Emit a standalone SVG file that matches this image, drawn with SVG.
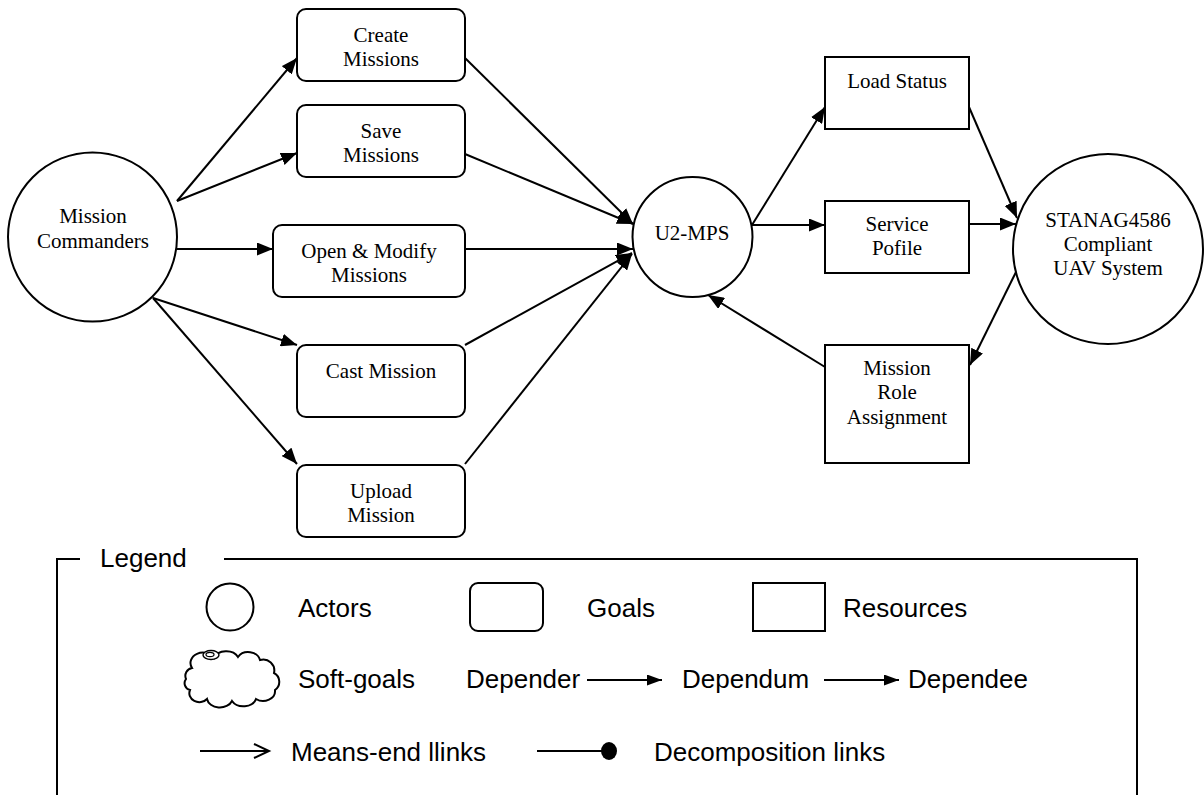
<svg xmlns="http://www.w3.org/2000/svg" width="1204" height="795" viewBox="0 0 1204 795">
  <style>
    .shape { fill: #ffffff; stroke: #000000; stroke-width: 2; }
    .label { font-family: "Liberation Serif", "Times New Roman", serif; font-size: 21px; fill: #000000; text-anchor: middle; }
    .edge { stroke: #000000; stroke-width: 2; fill: none; marker-end: url(#arrow); }
    .legend-text { font-family: "Liberation Sans", Arial, sans-serif; font-size: 26px; fill: #000000; }
    .legend-line { stroke: #000000; stroke-width: 2; fill: none; }
  </style>
  <defs>
    <marker id="arrow" markerUnits="userSpaceOnUse" markerWidth="17" markerHeight="13" refX="16" refY="6.5" orient="auto">
      <path d="M0,0 L16,6.5 L0,13 Z" fill="#000000"/>
    </marker>
    <marker id="arrow-small" markerUnits="userSpaceOnUse" markerWidth="16" markerHeight="11" refX="15" refY="5.5" orient="auto">
      <path d="M0,0 L15,5.5 L0,11 Z" fill="#000000"/>
    </marker>
  </defs>

  <rect x="0" y="0" width="1204" height="795" fill="#ffffff"/>

  <!-- dependency links -->
  <g id="connectors">
    <line class="edge" x1="177" y1="201" x2="297" y2="58"/>
    <line class="edge" x1="177" y1="201" x2="297" y2="153"/>
    <line class="edge" x1="177" y1="249" x2="273" y2="249"/>
    <line class="edge" x1="153" y1="298" x2="297" y2="345"/>
    <line class="edge" x1="153" y1="298" x2="297" y2="464"/>
    <line class="edge" x1="465" y1="58" x2="633" y2="224"/>
    <line class="edge" x1="465" y1="154" x2="633" y2="224"/>
    <line class="edge" x1="465" y1="249" x2="633" y2="249"/>
    <line class="edge" x1="465" y1="345" x2="632" y2="253"/>
    <line class="edge" x1="465" y1="464" x2="632" y2="254"/>
    <line class="edge" x1="752" y1="225" x2="825" y2="107"/>
    <line class="edge" x1="752" y1="225" x2="825" y2="225"/>
    <line class="edge" x1="825" y1="367" x2="708" y2="295"/>
    <line class="edge" x1="969" y1="107" x2="1017" y2="218"/>
    <line class="edge" x1="969" y1="224" x2="1016" y2="224"/>
    <line class="edge" x1="1016" y1="272" x2="970" y2="365"/>
  </g>

  <!-- actors -->
  <g id="mission-commanders">
    <circle class="shape" cx="92.5" cy="237" r="84.5"/>
    <text class="label" x="93" y="223">Mission</text>
    <text class="label" x="93" y="248">Commanders</text>
  </g>
  <g id="u2-mps">
    <circle class="shape" cx="692.5" cy="237" r="60"/>
    <text class="label" x="692" y="240">U2-MPS</text>
  </g>
  <g id="stanag4586-uav">
    <circle class="shape" cx="1108" cy="249" r="95"/>
    <text class="label" x="1108" y="227">STANAG4586</text>
    <text class="label" x="1108" y="251">Compliant</text>
    <text class="label" x="1108" y="275">UAV System</text>
  </g>

  <!-- goals -->
  <g id="create-missions">
    <rect class="shape" x="297" y="9" width="168" height="72" rx="9"/>
    <text class="label" x="381" y="42">Create</text>
    <text class="label" x="381" y="66">Missions</text>
  </g>
  <g id="save-missions">
    <rect class="shape" x="297" y="105" width="168" height="72" rx="9"/>
    <text class="label" x="381" y="138">Save</text>
    <text class="label" x="381" y="162">Missions</text>
  </g>
  <g id="open-modify-missions">
    <rect class="shape" x="273" y="225" width="192" height="72" rx="9"/>
    <text class="label" x="369" y="258">Open &amp; Modify</text>
    <text class="label" x="369" y="282">Missions</text>
  </g>
  <g id="cast-mission">
    <rect class="shape" x="297" y="345" width="168" height="72" rx="9"/>
    <text class="label" x="381" y="378">Cast Mission</text>
  </g>
  <g id="upload-mission">
    <rect class="shape" x="297" y="465" width="168" height="72" rx="9"/>
    <text class="label" x="381" y="498">Upload</text>
    <text class="label" x="381" y="522">Mission</text>
  </g>

  <!-- resources -->
  <g id="load-status">
    <rect class="shape" x="825" y="57" width="144" height="72"/>
    <text class="label" x="897" y="88">Load Status</text>
  </g>
  <g id="service-profile">
    <rect class="shape" x="825" y="201" width="144" height="72"/>
    <text class="label" x="897" y="231">Service</text>
    <text class="label" x="897" y="255">Pofile</text>
  </g>
  <g id="mission-role-assignment">
    <rect class="shape" x="825" y="345" width="144" height="118"/>
    <text class="label" x="897" y="375">Mission</text>
    <text class="label" x="897" y="399">Role</text>
    <text class="label" x="897" y="424">Assignment</text>
  </g>

  <!-- legend -->
  <g id="legend">
    <path class="legend-line" d="M80,559 L57,559 L57,797"/>
    <path class="legend-line" d="M224,559 L1137,559 L1137,797"/>
    <text class="legend-text" x="100" y="567">Legend</text>

    <circle class="shape" cx="230" cy="607" r="23.5"/>
    <text class="legend-text" x="298" y="617">Actors</text>

    <rect class="shape" x="470" y="583" width="73" height="48" rx="8"/>
    <text class="legend-text" x="587" y="617">Goals</text>

    <rect class="shape" x="753" y="583" width="72" height="48"/>
    <text class="legend-text" x="843" y="617">Resources</text>

    <!-- soft-goal cloud with its swirl -->
    <path class="shape" stroke-width="1.6" d="M192,668 A12,10 0 0 1 214,658 A13,10 0 0 1 238,657 A12,10 0 0 1 260,660 A11,11 0 0 1 274,673 A10,10 0 0 1 275,690 A12,10 0 0 1 256,699 A13,10 0 0 1 232,701 A13,10 0 0 1 207,699 A10,9 0 0 1 190,690 A7,7 0 0 1 186,679 A8,8 0 0 1 192,668 Z"/>
    <ellipse cx="211" cy="655" rx="8" ry="4.5" fill="#ffffff" stroke="#000000" stroke-width="1.4"/>
    <ellipse cx="210" cy="654.5" rx="4" ry="2.2" fill="none" stroke="#000000" stroke-width="1.2"/>
    <text class="legend-text" x="298" y="688">Soft-goals</text>

    <text class="legend-text" x="466" y="688">Depender</text>
    <line class="legend-line" x1="587" y1="680" x2="662" y2="680" marker-end="url(#arrow-small)"/>
    <text class="legend-text" x="682" y="688">Dependum</text>
    <line class="legend-line" x1="824" y1="680" x2="899" y2="680" marker-end="url(#arrow-small)"/>
    <text class="legend-text" x="908" y="688">Dependee</text>

    <line class="legend-line" x1="200" y1="751" x2="268" y2="751"/>
    <polyline class="legend-line" points="254,744 269,751 254,758"/>
    <text class="legend-text" x="291" y="761">Means-end llinks</text>

    <line class="legend-line" x1="537" y1="751" x2="602" y2="751"/>
    <ellipse cx="609" cy="751" rx="8" ry="9" fill="#000000"/>
    <text class="legend-text" x="654" y="761">Decomposition links</text>
  </g>
</svg>
